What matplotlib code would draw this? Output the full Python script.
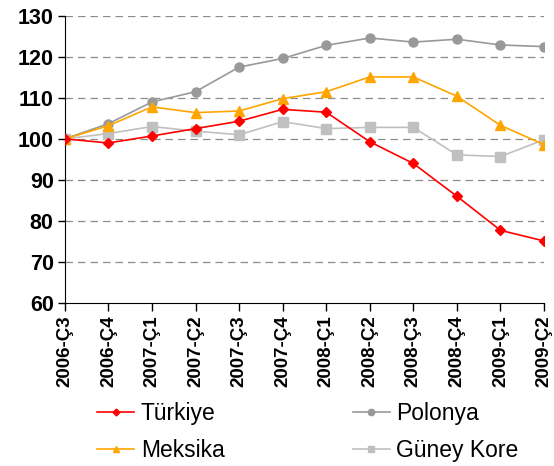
import matplotlib
matplotlib.use("Agg")
import matplotlib.pyplot as plt

plt.rcParams["font.family"] = ["Liberation Sans", "DejaVu Sans"]

QUARTERS = ["2006-Ç3", "2006-Ç4", "2007-Ç1", "2007-Ç2", "2007-Ç3", "2007-Ç4",
            "2008-Ç1", "2008-Ç2", "2008-Ç3", "2008-Ç4", "2009-Ç1", "2009-Ç2"]
TURKIYE = [100, 99.0, 100.7, 102.5, 104.3, 107.2, 106.5, 99.3, 94.0, 86.0, 77.7, 75.1]
POLONYA = [100, 103.7, 109.0, 111.5, 117.5, 119.6, 122.8, 124.6, 123.6, 124.3, 122.9, 122.5]
MEKSIKA = [100, 103.2, 107.8, 106.4, 106.8, 109.8, 111.5, 115.1, 115.1, 110.4, 103.3, 98.6]
GUNEY_KORE = [100, 101.3, 103.0, 101.9, 101.0, 104.2, 102.5, 102.8, 102.8, 96.1, 95.7, 99.8]
Y_TICKS = [60, 70, 80, 90, 100, 110, 120, 130]

fig = plt.figure(figsize=(5.54, 4.66), dpi=100)
ax = fig.add_axes([0.117, 0.350, 0.865, 0.616])

x = list(range(len(QUARTERS)))
ax.plot(x, TURKIYE, color="#ff0000", marker="D", markersize=5, lw=1.2, label="Türkiye", zorder=5)
ax.plot(x, POLONYA, color="#999999", marker="o", markersize=6.5, lw=1.2, label="Polonya", zorder=3)
ax.plot(x, MEKSIKA, color="#ffa500", marker="^", markersize=6.5, lw=1.2, label="Meksika", zorder=4)
ax.plot(x, GUNEY_KORE, color="#c0c0c0", marker="s", markersize=6.5, lw=1.2, label="Güney Kore", zorder=2)

ax.set_ylim(60, 130)
ax.set_xlim(0, len(QUARTERS) - 1)
ax.set_yticks(Y_TICKS)
ax.set_yticklabels([str(v) for v in Y_TICKS], fontsize=15.5, fontweight="bold")
ax.set_xticks(x)
ax.set_xticklabels(QUARTERS, rotation=90, fontsize=13.5, fontweight="bold")
for v in Y_TICKS[1:]:
    ax.axhline(v, color="#8c8c8c", lw=0.9, ls=(0, (6, 4)), zorder=0)
ax.spines["top"].set_visible(False)
ax.spines["right"].set_visible(False)
ax.tick_params(axis="both", direction="out", length=5, width=1, colors="black", pad=3)
ax.tick_params(axis="x", length=6)

handles, labels = ax.get_legend_handles_labels()
order = [0, 2, 1, 3]
fig.legend([handles[i] for i in order], [labels[i] for i in order],
           loc="upper center", bbox_to_anchor=(0.556, 0.181), ncol=2, frameon=False,
           fontsize=16.5, columnspacing=5.6, handlelength=1.6, handletextpad=0.3,
           labelspacing=0.6, markerscale=0.7)

fig.savefig("out.png", dpi=100)
